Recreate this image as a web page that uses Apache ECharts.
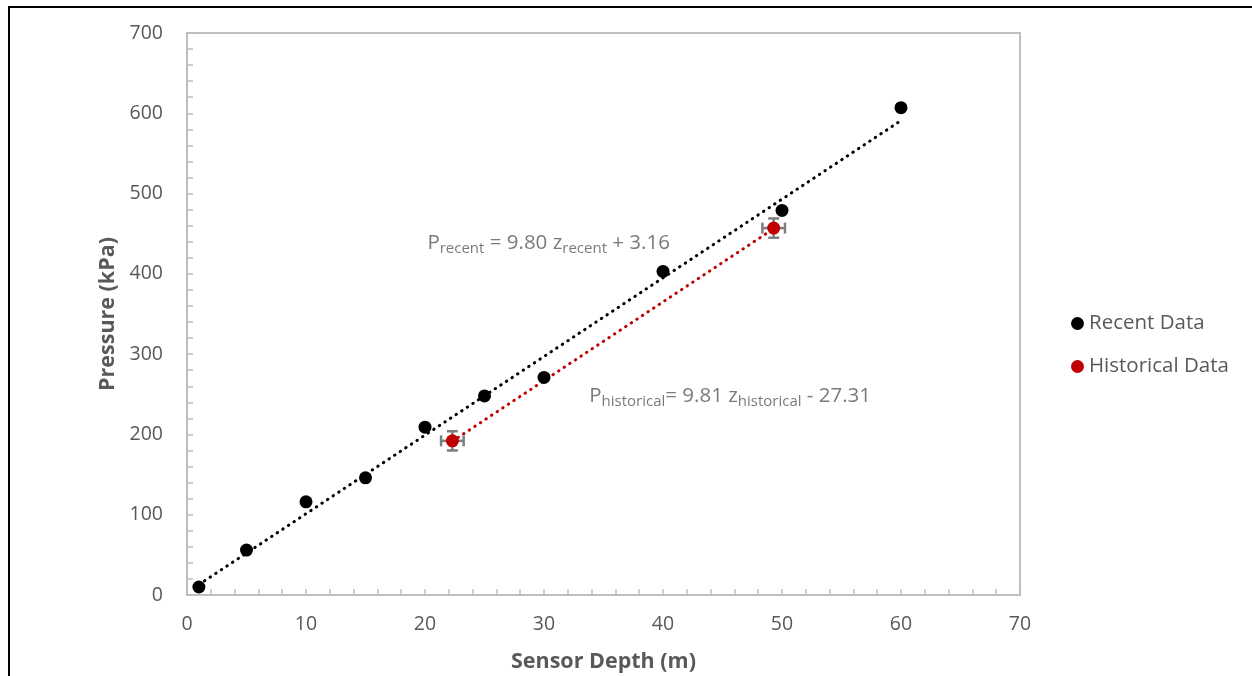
<!DOCTYPE html>
<html>
<head>
<meta charset="utf-8">
<script src="https://cdn.jsdelivr.net/npm/echarts@6/dist/echarts.min.js"></script>
<style>
  html, body { margin: 0; padding: 0; background: #fff; }
  #frame { position: absolute; left: 8px; top: 6px; width: 1300px; height: 700px;
           border-left: 2px solid #000; border-top: 2px solid #000; pointer-events: none; }
  #chart { position: absolute; left: 0; top: 0; width: 1252px; height: 676px; }
</style>
</head>
<body>
<div id="chart"></div>
<div id="frame"></div>
<script>
// recent measurements: depth (m) / pressure (kPa)
const recentDepth = [1, 5, 10, 15, 20, 25, 30, 40, 50, 60];
const recentPressure = [10, 56, 116, 146, 209, 248, 271, 403, 479, 607];

// historical measurements with error bars
const histDepth = [22.3, 49.3];
const histPressure = [192, 457];
const histDepthErr = [0.95, 0.95];
const histPressureErr = [12, 12];

// trendline end points
const recentTrend = [[1, 13], [60, 591]];
const histTrend = [[22.3, 191.5], [49.3, 456.3]];

// where the fit equations sit
const recentEqAt = [20.2, 438];
const histEqAt = [33.8, 248];

const txt = '#595959';
const axisCol = '#bfbfbf';
const red = '#c00000';
const font = '"Open Sans", sans-serif';

const chart = echarts.init(document.getElementById('chart'), null, {renderer: 'canvas'});

const recentData = recentDepth.map((d, i) => [d, recentPressure[i]]);
const histData = histDepth.map((d, i) => [d, histPressure[i]]);
const errData = histDepth.map((d, i) => [d, histPressure[i], histDepthErr[i], histPressureErr[i]]);

const eqRich = {
  m: {fontSize: 20.5, color: txt, fontFamily: font},
  s: {fontSize: 15, color: txt, fontFamily: font, verticalAlign: 'bottom', padding: [11, 0, 0, 0]}
};

chart.setOption({
  animation: false,
  textStyle: {fontFamily: font},
  grid: {
    left: 187, right: 232, top: 33, bottom: 81,
    outerBoundsMode: 'none',
    show: true, borderColor: axisCol, borderWidth: 2, backgroundColor: 'transparent'
  },
  legend: {
    orient: 'vertical',
    left: 1066,
    top: 308,
    itemWidth: 13,
    itemHeight: 13,
    itemGap: 22,
    icon: 'circle',
    data: ['Recent Data', 'Historical Data'],
    textStyle: {fontSize: 20.5, color: txt, fontFamily: font}
  },
  xAxis: {
    type: 'value',
    min: 0, max: 70, interval: 10,
    name: 'Sensor Depth (m)',
    nameLocation: 'middle',
    nameGap: 56,
    nameTextStyle: {fontSize: 21.5, fontWeight: 'bold', color: txt, fontFamily: font},
    axisLine: {show: true, lineStyle: {color: axisCol, width: 2}},
    axisTick: {show: true, inside: true, length: 6, lineStyle: {color: axisCol, width: 1.5}},
    minorTick: {show: true, splitNumber: 5, length: 6, lineStyle: {color: axisCol, width: 1.5}},
    axisLabel: {fontSize: 19.5, color: txt, margin: 19, fontFamily: font},
    splitLine: {show: false}
  },
  yAxis: {
    type: 'value',
    min: 0, max: 700, interval: 100,
    name: 'Pressure (kPa)',
    nameLocation: 'middle',
    nameGap: 57,
    nameTextStyle: {fontSize: 21.5, fontWeight: 'bold', color: txt, fontFamily: font},
    axisLine: {show: true, lineStyle: {color: axisCol, width: 2}},
    axisTick: {show: true, inside: true, length: 6, lineStyle: {color: axisCol, width: 1.5}},
    minorTick: {show: true, splitNumber: 5, length: 6, lineStyle: {color: axisCol, width: 1.5}},
    axisLabel: {fontSize: 19.5, color: txt, margin: 24, fontFamily: font},
    splitLine: {show: false}
  },
  series: [
    {
      name: 'recentTrend',
      type: 'line',
      data: recentTrend,
      symbol: 'none',
      z: 1,
      lineStyle: {color: '#000', width: 3, type: [0.5, 6.2], cap: 'round'}
    },
    {
      name: 'histTrend',
      type: 'line',
      data: histTrend,
      symbol: 'none',
      z: 1,
      lineStyle: {color: red, width: 3, type: [0.5, 6.2], cap: 'round'}
    },
    {
      name: 'errors',
      type: 'custom',
      z: 2,
      data: errData,
      renderItem: (params, api) => {
        const x = api.value(0), y = api.value(1), xe = api.value(2), ye = api.value(3);
        const c = api.coord([x, y]);
        const l = api.coord([x - xe, y]), r = api.coord([x + xe, y]);
        const t = api.coord([x, y + ye]), b = api.coord([x, y - ye]);
        const cap = 5.5;
        const st = {stroke: '#7f7f7f', lineWidth: 2.5};
        const seg = (x1, y1, x2, y2) => ({type: 'line', shape: {x1, y1, x2, y2}, style: st});
        return {
          type: 'group',
          children: [
            seg(l[0], c[1], r[0], c[1]),
            seg(l[0], c[1] - cap, l[0], c[1] + cap),
            seg(r[0], c[1] - cap, r[0], c[1] + cap),
            seg(c[0], t[1], c[0], b[1]),
            seg(c[0] - cap, t[1], c[0] + cap, t[1]),
            seg(c[0] - cap, b[1], c[0] + cap, b[1])
          ]
        };
      }
    },
    {
      name: 'Recent Data',
      type: 'scatter',
      z: 3,
      data: recentData,
      symbol: 'circle',
      symbolSize: 13,
      itemStyle: {color: '#000', opacity: 1}
    },
    {
      name: 'Historical Data',
      type: 'scatter',
      z: 3,
      data: histData,
      symbol: 'circle',
      symbolSize: 13,
      itemStyle: {color: red, opacity: 1}
    },
    {
      name: 'equations',
      type: 'scatter',
      z: 4,
      symbolSize: 0,
      silent: true,
      data: [
        {value: recentEqAt, eq: '{m|P}{s|recent}{m| = 9.80 z}{s|recent}{m| + 3.16}'},
        {value: histEqAt, eq: '{m|P}{s|historical}{m|= 9.81 z}{s|historical}{m| - 27.31}'}
      ],
      label: {
        show: true,
        position: 'right',
        distance: 0,
        formatter: p => p.data.eq,
        rich: eqRich
      }
    }
  ]
});
</script>
</body>
</html>
